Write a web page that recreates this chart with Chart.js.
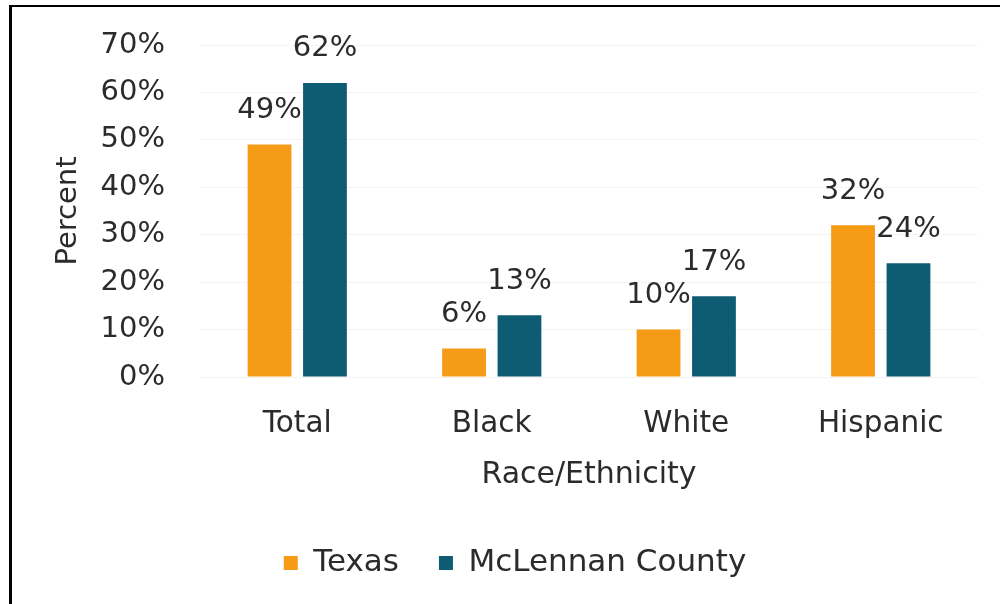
<!DOCTYPE html>
<html>
<head>
<meta charset="utf-8">
<title>Race/Ethnicity</title>
<script src="https://cdn.jsdelivr.net/npm/chart.js@4.4.1/dist/chart.umd.min.js"></script>
<style>
    html, body { margin: 0; padding: 0; background: #ffffff; }
    #wrap { position: relative; width: 1000px; height: 604px; overflow: hidden; }
    #frame {
        position: absolute; left: 9px; top: 5px; width: 1000px; height: 620px;
        border-top: 2px solid #000; border-left: 3px solid #000;
        pointer-events: none;
    }
    canvas { position: absolute; left: 0; top: 0; }
</style>
</head>
<body>
<div id="wrap">
    <canvas id="raceChart" width="1000" height="604"></canvas>
    <div id="frame"></div>
</div>
<script>
const categories = ['Total', 'Black', 'White', 'Hispanic'];
const texasValues = [49, 6, 10, 32];
const mclennanValues = [62, 13, 17, 24];
const seriesNames = ['Texas', 'McLennan County'];
const yTicks = [0, 10, 20, 30, 40, 50, 60, 70];

const textColor = '#2b2b2b';
const fontFamily = '"DejaVu Sans", sans-serif';

// Percent labels above each bar
const barLabels = {
    id: 'barLabels',
    afterDatasetsDraw(chart) {
        const ctx = chart.ctx;
        ctx.save();
        ctx.font = '29px ' + fontFamily;
        ctx.fillStyle = textColor;
        ctx.textAlign = 'center';
        ctx.textBaseline = 'middle';
        chart.data.datasets.forEach((ds, i) => {
            chart.getDatasetMeta(i).data.forEach((bar, j) => {
                ctx.fillText(ds.data[j] + '%', bar.x, bar.y - 34);
            });
        });
        ctx.restore();
    }
};

const ctx = document.getElementById('raceChart').getContext('2d');
new Chart(ctx, {
    type: 'bar',
    data: {
        labels: categories,
        datasets: [{
            label: seriesNames[0],
            data: texasValues,
            backgroundColor: '#f59b15',
            categoryPercentage: 0.57,
            barPercentage: 0.79
        }, {
            label: seriesNames[1],
            data: mclennanValues,
            backgroundColor: '#0e5c74',
            categoryPercentage: 0.57,
            barPercentage: 0.79
        }]
    },
    options: {
        responsive: false,
        animation: false,
        layout: {
            padding: { top: 45, right: 22, bottom: 15.5, left: 52 }
        },
        scales: {
            x: {
                grid: { display: false, drawTicks: false },
                border: { display: false },
                ticks: {
                    color: textColor,
                    font: { family: fontFamily, size: 29.5 },
                    padding: 30
                },
                title: {
                    display: true,
                    text: 'Race/Ethnicity',
                    color: textColor,
                    font: { family: fontFamily, size: 30 },
                    padding: { top: 0, bottom: 14 }
                },
                afterFit(scale) { scale.height = 130.5; }
            },
            y: {
                min: 0,
                max: 70,
                // invisible tick marks keep the labels clear of the bars
                grid: { color: '#f3f3f3', tickColor: 'rgba(0,0,0,0)', tickLength: 12 },
                border: { display: false },
                afterBuildTicks(scale) {
                    scale.ticks = yTicks.map(v => ({ value: v }));
                },
                ticks: {
                    color: textColor,
                    font: { family: fontFamily, size: 29 },
                    padding: 23,
                    callback: v => v + '%'
                },
                title: {
                    display: true,
                    text: 'Percent',
                    color: textColor,
                    font: { family: fontFamily, size: 29 },
                    padding: { top: -1, bottom: 0 }
                },
                afterFit(scale) { scale.width = 148; }
            }
        },
        plugins: {
            legend: {
                position: 'bottom',
                labels: {
                    color: textColor,
                    font: { family: fontFamily, size: 31 },
                    boxWidth: 14,
                    boxHeight: 14,
                    padding: 40
                }
            },
            tooltip: { enabled: false }
        }
    },
    plugins: [barLabels]
});
</script>
</body>
</html>
